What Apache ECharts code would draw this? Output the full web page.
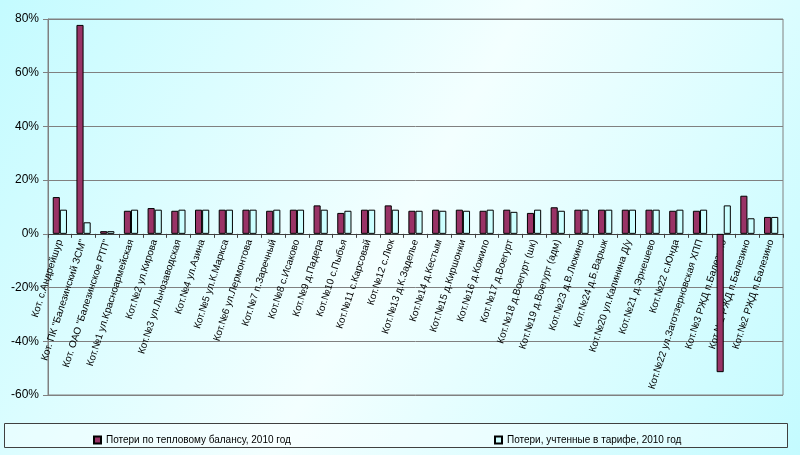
<!DOCTYPE html>
<html>
<head>
<meta charset="utf-8">
<script src="https://cdn.jsdelivr.net/npm/echarts@6/dist/echarts.min.js"></script>
<style>html,body{margin:0;padding:0;}#c{width:800px;height:455px;}</style>
</head>
<body>
<div id="c"></div>
<script>
var categories = [
  'Кот. с.Андрейшур',
  'Кот. ПК "Балезинский ЗСМ"',
  'Кот. ОАО "Балезинское РТП"',
  'Кот.№1 ул.Красноармейская',
  'Кот.№2 ул.Кирова',
  'Кот.№3 ул.Льнозаводская',
  'Кот.№4 ул.Азина',
  'Кот.№5 ул.К.Маркса',
  'Кот.№6 ул.Лермонтова',
  'Кот.№7 п.Заречный',
  'Кот.№8 с.Исаково',
  'Кот.№9 д.Падера',
  'Кот.№10 с.Пыбья',
  'Кот.№11 с.Карсовай',
  'Кот.№12 с.Люк',
  'Кот.№13 д.К.Заделье',
  'Кот.№14 д.Кестым',
  'Кот.№15 д.Киршонки',
  'Кот.№16 д.Кожило',
  'Кот.№17 д.Воегурт',
  'Кот.№18 д.Воегурт (шк)',
  'Кот.№19 д.Воегурт (адм)',
  'Кот.№23 д.В.Люкино',
  'Кот.№24 д.Б.Варыж',
  'Кот.№20 ул.Калинина Д/у',
  'Кот.№21 д.Эрнешево',
  'Кот.№22 с.Юнда',
  'Кот.№22 ул.Заготзерновская ХПП',
  'Кот.№3 РЖД п.Балезино',
  'Кот.№1 РЖД п.Балезино',
  'Кот.№2 РЖД п.Балезино'
];
var seriesNames = ['Потери по тепловому балансу, 2010 год', 'Потери, учтенные в тарифе, 2010 год'];
var balanceLoss = [13.7, 77.8, 1.0, 8.6, 9.6, 8.6, 9.0, 9.0, 9.0, 8.6, 9.0, 10.6, 7.8, 9.0, 10.6, 8.6, 9.0, 9.0, 8.6, 9.0, 7.8, 9.9, 9.0, 9.0, 9.0, 9.0, 8.6, 8.6, -51.5, 14.2, 6.3];
var tariffLoss = [9.0, 4.3, 1.0, 9.0, 9.0, 9.0, 9.0, 9.0, 9.0, 9.0, 9.0, 9.0, 8.6, 9.0, 9.0, 8.6, 8.6, 8.6, 9.0, 8.2, 9.0, 8.6, 9.0, 9.0, 9.0, 9.0, 9.0, 9.0, 10.6, 5.8, 6.3];
var yMin = -60, yMax = 80, yStep = 20;

var font = '"Liberation Sans", Arial, sans-serif';
var gridTop = 19, gridBottom = 60, H = 455;
var gridH = H - gridTop - gridBottom;
var zeroOffset = -((0 - yMin) / (yMax - yMin)) * gridH;

var chart = echarts.init(document.getElementById('c'), null, {renderer: 'canvas'});
chart.setOption({
  animation: false,
  backgroundColor: new echarts.graphic.LinearGradient(0, 0, 1, 1, [
    {offset: 0, color: '#c4fbff'},
    {offset: 0.5, color: '#f3ffff'},
    {offset: 1, color: '#c4fbff'}
  ]),
  textStyle: {fontFamily: font},
  grid: {left: 48, right: 17, top: gridTop, bottom: gridBottom, show: true, borderColor: '#808080', borderWidth: 1,
         containLabel: false, outerBoundsMode: 'none'},
  graphic: [{
    type: 'rect', left: 4, top: 423, z: 0,
    shape: {width: 783, height: 24},
    style: {fill: 'rgba(255,255,255,0.35)', stroke: '#404040', lineWidth: 1}
  }],
  legend: [
    {data: [seriesNames[0]], left: 88, top: 430, itemWidth: 7, itemHeight: 7, itemGap: 3,
     textStyle: {fontSize: 10, fontFamily: font, color: '#000'}, icon: 'rect'},
    {data: [seriesNames[1]], left: 489, top: 430, itemWidth: 7, itemHeight: 7, itemGap: 3,
     textStyle: {fontSize: 10, fontFamily: font, color: '#000'}, icon: 'rect'}
  ],
  xAxis: {
    type: 'category', data: categories, offset: zeroOffset,
    axisLine: {onZero: false, lineStyle: {color: '#404040', width: 1}},
    axisTick: {show: true, length: 4, alignWithLabel: false, lineStyle: {color: '#404040'}},
    axisLabel: {interval: 0, rotate: 72, fontSize: 10, color: '#000', margin: 6, fontFamily: font},
    splitLine: {show: false}
  },
  yAxis: {
    type: 'value', min: yMin, max: yMax, interval: yStep,
    axisLine: {show: true, lineStyle: {color: '#808080'}},
    axisTick: {show: true, length: 5, lineStyle: {color: '#808080'}},
    axisLabel: {formatter: '{value}%', fontSize: 12, color: '#000', margin: 9, fontFamily: font},
    splitLine: {show: true, lineStyle: {color: '#808080', width: 1}}
  },
  series: [
    {name: seriesNames[0], type: 'bar', data: balanceLoss, barGap: '0%', barCategoryGap: '40%',
     itemStyle: {color: '#993366', borderColor: '#000', borderWidth: 1}},
    {name: seriesNames[1], type: 'bar', data: tariffLoss,
     itemStyle: {color: '#ccffff', borderColor: '#000', borderWidth: 1}}
  ]
});
</script>
</body>
</html>
